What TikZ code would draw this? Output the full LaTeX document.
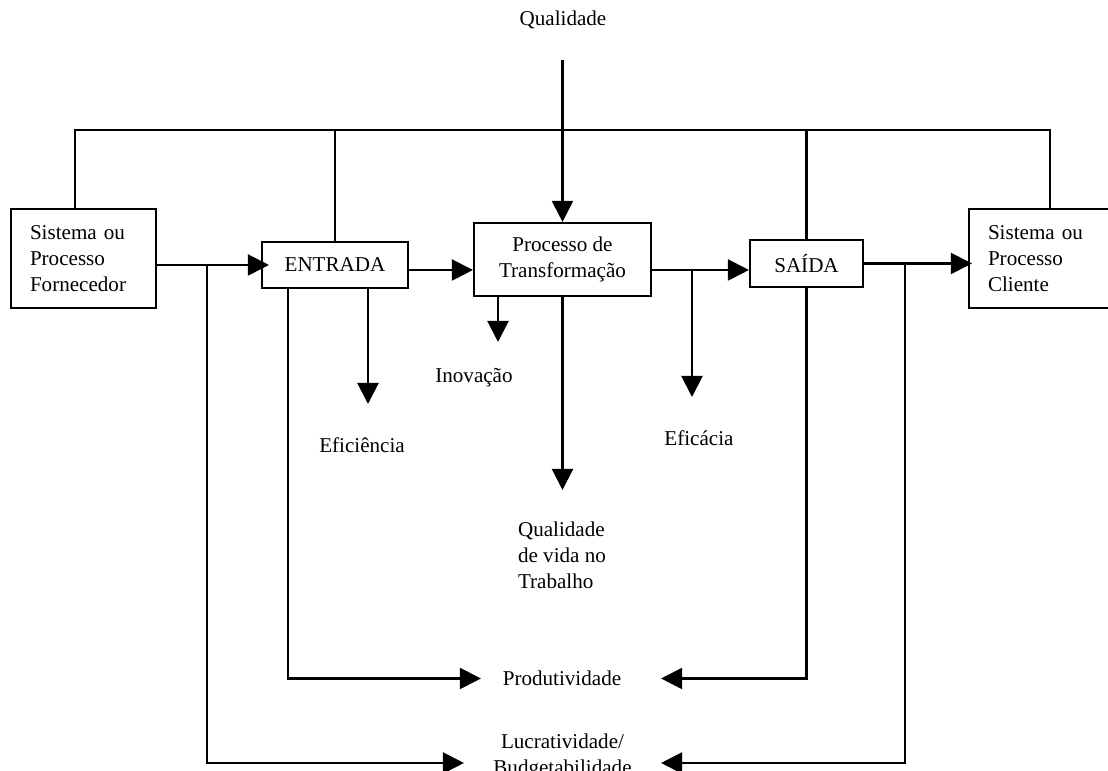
\documentclass[tikz,border=0pt]{standalone}
\usepackage{fontspec}
\setmainfont{Liberation Serif}
\usetikzlibrary{arrows.meta}

\begin{document}
\begin{tikzpicture}[every node/.style={font=\fontsize{12}{14.8}\selectfont},
	line width=1.2pt,
	box/.style={draw, line width=1.2pt},
	sidebox/.style={box, minimum width=2.9cm, minimum height=1.98cm, inner xsep=0.38cm, text width=2.14cm, align=left},
	arr/.style={-{Triangle[length=4.2mm,width=4.2mm]}}]
	\useasboundingbox (0,0) rectangle (22.16,15.42);
	\clip (0,0) rectangle (22.16,15.42);
	% caixas da cadeia
	\node[sidebox] (forn) at (1.67,10.25) {Sistema ou\\Processo\\Fornecedor};
	\node[box, minimum width=2.92cm, minimum height=0.92cm] (ent) at (6.70,10.12) {ENTRADA};
	\node[box, minimum width=3.54cm, minimum height=1.46cm, align=center] (proc) at (11.25,10.23) {Processo de\\Transformação};
	\node[box, minimum width=2.26cm, minimum height=0.94cm] (sai) at (16.13,10.15) {SAÍDA};
	\node[sidebox] (cli) at (20.83,10.25) {Sistema ou\\Processo\\Cliente};
	% rotulos
	\node (qual) at (11.26,15.02) {Qualidade};
	\node (efi) at (7.24,6.52) {Eficiência};
	\node (ino) at (9.48,7.86) {Inovação};
	\node (efc) at (13.98,6.66) {Eficácia};
	\node[align=left, anchor=west, inner sep=0pt] (qvt) at (10.34,4.32) {Qualidade\\de vida no\\Trabalho};
	\node[minimum width=3.2cm] (prod) at (11.24,1.85) {Produtividade};
	\node[minimum width=3.9cm, align=center] (lucr) at (11.25,0.30) {Lucratividade/\\Budgetabilidade};
	\coordinate (frame) at (0,12.82);
	\coordinate (mid) at (0,10.02);
	\coordinate (qstart) at (11.25,14.22);
	\coordinate (efitip) at (7.36,7.34);
	\coordinate (inotip) at (9.96,8.58);
	\coordinate (efctip) at (13.84,7.48);
	\coordinate (qvttip) at (11.25,5.62);
	% moldura de cima
	\draw (forn.north -| 1.5,0) -- (1.5,0 |- frame) -| (cli.north -| 21,0);
	\draw (ent.north) -- (ent.north |- frame);
	\draw (sai.north) -- (sai.north |- frame);
	\draw[arr] (qstart) -- (proc.north);
	% fluxo principal
	\draw[arr, shorten >=-1.6mm] (forn.east |- ent.west) -- (ent.west);
	\draw[arr] (ent.east |- mid) -- (proc.west |- mid);
	\draw[arr] (proc.east |- mid) -- (sai.west |- mid);
	\draw[arr, shorten >=-0.8mm] (sai.east) -- (cli.west |- sai.east);
	% indicadores
	\draw[arr] (ent.south -| 7.36,0) -- (efitip);
	\draw[arr] (proc.south -| 9.96,0) -- (inotip);
	\draw[arr] (mid -| 13.84,0) -- (efctip);
	\draw[arr] (proc.south) -- (qvttip);
	\draw[arr] (ent.south -| 5.76,0) |- (prod.west);
	\draw[arr] (sai.south) |- ([xshift=3.6mm]prod.east);
	\draw[arr] (ent.west -| 4.14,0) |- ([yshift=-1.4mm]lucr.west);
	\draw[arr] (sai.east -| 18.1,0) |- ([yshift=-1.4mm]lucr.east);
\end{tikzpicture}
\end{document}
